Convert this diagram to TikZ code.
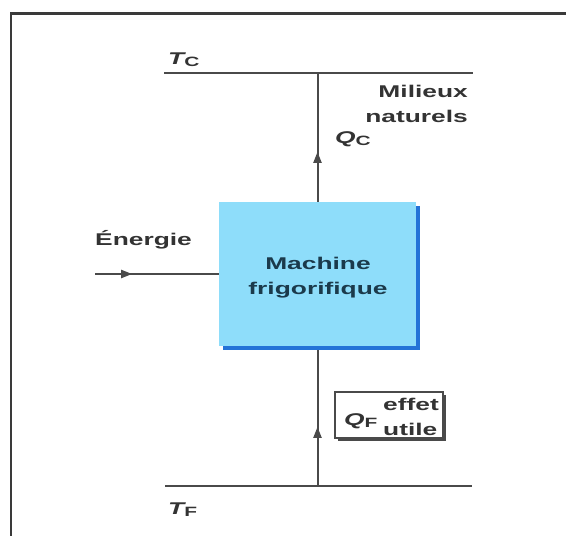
\documentclass[tikz,border=0pt]{standalone}
\usepackage{fontspec}
\setmainfont{Liberation Sans}[FakeStretch=1.55]
\usetikzlibrary{arrows.meta,decorations.markings,shadows,calc}
\definecolor{linegray}{HTML}{4A4A4A}
\definecolor{framegray}{HTML}{3A3A3A}
\definecolor{txtgray}{HTML}{333333}
\definecolor{boxcyan}{RGB}{142,221,250}
\definecolor{boxshadow}{RGB}{35,115,215}
\definecolor{navytxt}{HTML}{1B3A4B}
\newcommand{\varsym}[2]{{\bfseries\itshape #1}\raisebox{-0.3ex}{\fontsize{13.5}{14}\selectfont\bfseries #2}}
\begin{document}
\begin{tikzpicture}[x=1pt,y=-1pt,
  lbl/.style={font=\fontsize{17}{25}\selectfont\bfseries, text=txtgray, inner sep=0pt},
  conn/.style={draw=linegray, line width=2pt},
  midarrow/.style={postaction={decorate}, decoration={markings,
      mark=at position #1 with {\arrow{Triangle[length=11pt,width=8pt]}}}},
]
\useasboundingbox (0,0) rectangle (566,536);
% frame
\coordinate (fTR) at (566,13.5);
\coordinate (fTL) at (11,13.5);
\coordinate (fBL) at (11,536);
\draw[draw=framegray, line width=2.4pt] (fTR) -- (fTL) -- (fBL);

% temperature levels
\coordinate (tcL) at (164,72.7);
\coordinate (tcR) at (473,72.7);
\coordinate (tfL) at (165,486);
\coordinate (tfR) at (472,486);
\draw[conn] (tcL) -- (tcR);
\draw[conn] (tfL) -- (tfR);

% machine box
\node[fill=boxcyan, minimum width=197pt, minimum height=144pt, inner sep=0pt,
      drop shadow={shadow xshift=4pt, shadow yshift=-4pt, fill=boxshadow, opacity=1}]
      (mach) at (317.5,274) {};

% connectors
\coordinate (en) at (95,274);
\draw[conn, midarrow=0.387] (mach.north) -- (mach.north |- tcL);
\draw[conn, midarrow=0.436] (mach.south |- tfL) -- ([yshift=-4pt]mach.south);
\draw[conn, midarrow=0.30] (en) -- (mach.west);

\node[font=\fontsize{17}{25}\selectfont\bfseries, text=navytxt, align=center, inner sep=0pt]
      (mtext) at (318,278) {Machine\\frigorifique};

% labels
\node[lbl, anchor=base west] (tc) at (168,64) {\varsym{T}{C}};
\node[lbl, anchor=base west] (tf) at (168,514) {\varsym{T}{F}};
\node[lbl, anchor=base west] (qc) at (335,143) {\varsym{Q}{C}};
\node[lbl, align=right, anchor=base east] (mil) at (468,122) {Milieux\\naturels};
\node[lbl, anchor=base west] (ener) at (95,245) {Énergie};

% useful effect box
\node[draw=linegray, line width=1.5pt, fill=white, minimum width=108pt, minimum height=46pt, inner sep=0pt,
      drop shadow={shadow xshift=3pt, shadow yshift=-3pt, fill=linegray, opacity=1}]
      (qfbox) at (389,415) {};
\node[lbl, anchor=base west] (qf) at (344,425) {\varsym{Q}{F}};
\node[lbl, align=left, anchor=base west] (eff) at (383,435) {effet\\utile};
\end{tikzpicture}
\end{document}
